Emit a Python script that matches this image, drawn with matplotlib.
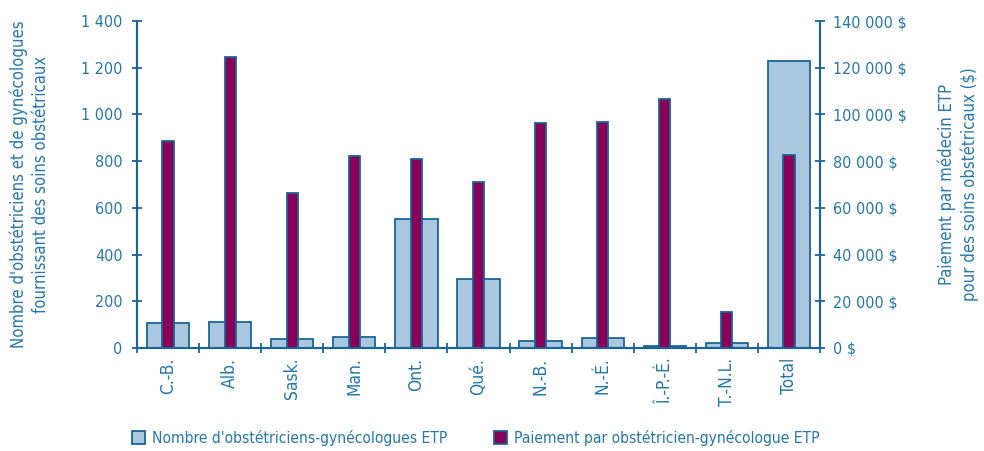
import numpy as np
import matplotlib.pyplot as plt
from matplotlib.ticker import FuncFormatter, FixedLocator

provinces = ["C.-B.", "Alb.", "Sask.", "Man.", "Ont.", "Qué.", "N.-B.", "N.-É.", "Î.-P.-É.", "T.-N.L.", "Total"]
nb_obst = [108, 110, 37, 47, 552, 295, 29, 42, 7, 23, 1229]
paiement = [88600, 124400, 66200, 82300, 80900, 71100, 96200, 96600, 106700, 15300, 82500]

txt = "#2677a8"
axc = "#1a6596"
light = "#a9c7df"
dark = "#880057"

plt.rcParams['font.family'] = ['DejaVu Sans']
plt.rcParams['font.stretch'] = 'condensed'

fig = plt.figure(figsize=(9.84, 4.51), dpi=100)
ax = fig.add_axes([137/984, 1 - 348/451, (820-137)/984, (348-21)/451])
ax2 = ax.twinx()

x = np.arange(len(provinces))
ax.bar(x, nb_obst, width=0.68, color=light, edgecolor=axc, linewidth=1.3, zorder=2)
ax2.bar(x, paiement, width=0.18, color=dark, edgecolor=axc, linewidth=1.3, zorder=3)

ax.set_xlim(-0.5, len(provinces) - 0.5)
ax.set_ylim(0, 1400)
ax2.set_ylim(0, 140000)
ax.set_yticks(np.arange(0, 1401, 200))
ax2.set_yticks(np.arange(0, 140001, 20000))
ax.yaxis.set_major_formatter(FuncFormatter(lambda v, p: f"{int(v):,}".replace(",", " ")))
ax2.yaxis.set_major_formatter(FuncFormatter(lambda v, p: f"{int(v):,} $".replace(",", " ")))

ax.set_xticks(x)
ax.set_xticklabels(provinces, rotation=90)
ax.xaxis.set_minor_locator(FixedLocator(np.arange(-0.5, len(provinces), 1)))
ax.tick_params(axis='x', which='major', length=0, pad=7, labelsize=12.5, labelcolor=txt)
ax.tick_params(axis='x', which='minor', direction='inout', length=7, color=axc, width=1.3)
ax.tick_params(axis='y', direction='inout', length=7, color=axc, width=1.3, labelsize=11.5, labelcolor=txt, pad=7)
ax2.tick_params(axis='y', direction='inout', length=7, color=axc, width=1.3, labelsize=11.5, labelcolor=txt, pad=6)

for a in (ax, ax2):
    a.spines['top'].set_visible(False)
    for s in ('left', 'right', 'bottom'):
        a.spines[s].set_color(axc)
        a.spines[s].set_linewidth(1.5)

ax.set_ylabel("Nombre d'obstétriciens et de gynécologues\nfournissant des soins obstétricaux",
              color=txt, fontsize=12, labelpad=22, linespacing=1.3)
ax2.set_ylabel("Paiement par médecin ETP\npour des soins obstétricaux ($)",
               color=txt, fontsize=12, labelpad=22, linespacing=1.3)

h1 = plt.Rectangle((0, 0), 1, 1, facecolor=light, edgecolor=axc, linewidth=1.3)
h2 = plt.Rectangle((0, 0), 1, 1, facecolor=dark, edgecolor=axc, linewidth=1.3)
leg = fig.legend([h1, h2], ["Nombre d'obstétriciens-gynécologues ETP", "Paiement par obstétricien-gynécologue ETP"],
                 loc='center left', bbox_to_anchor=(118/984, 1 - 438/451), ncol=2, frameon=False,
                 fontsize=11.2, handlelength=0.85, handleheight=0.85, handletextpad=0.45, columnspacing=3.0)
for t in leg.get_texts():
    t.set_color(txt)

fig.savefig("out.png", dpi=100)
